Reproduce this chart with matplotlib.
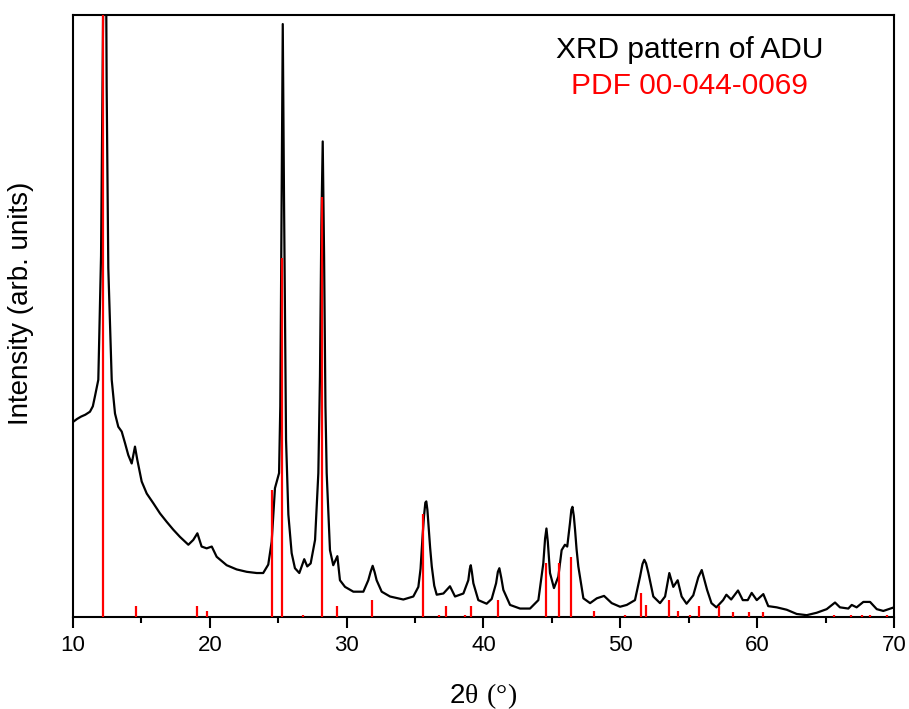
import numpy as np
import matplotlib
matplotlib.use("Agg")
import matplotlib.pyplot as plt

plt.rcParams['font.family'] = ['Liberation Sans', 'DejaVu Sans']
plt.rcParams['mathtext.fontset'] = 'custom'
plt.rcParams['mathtext.rm'] = 'Liberation Serif'

# Patrón XRD del ADU (intensidad en unidades arbitrarias)
two_theta = [
    10.0, 10.3, 10.6, 10.9, 11.24, 11.45, 11.6, 11.85, 12.05, 12.2, 12.35,
    12.46, 12.58, 12.83, 13.07, 13.31, 13.56, 13.8, 14.04, 14.29, 14.53, 14.7,
    15.02, 15.39, 15.87, 16.36, 16.85, 17.33, 17.82, 18.43, 18.79, 19.09,
    19.4, 19.77, 20.14, 20.5, 21.23, 21.96, 22.7, 23.43, 23.9, 24.27, 24.52,
    24.76, 24.93, 25.06, 25.15, 25.25, 25.33, 25.42, 25.57, 25.74, 25.98,
    26.22, 26.54, 26.9, 27.12, 27.37, 27.69, 27.93, 28.05, 28.15, 28.25,
    28.35, 28.45, 28.54, 28.78, 29.02, 29.32, 29.51, 29.88, 30.49, 31.22,
    31.58, 31.75, 31.9, 32.05, 32.19, 32.56, 33.17, 34.14, 34.87, 35.24,
    35.4, 35.55, 35.65, 35.75, 35.82, 35.9, 35.97, 36.1, 36.22, 36.4,
    36.58, 37.07, 37.55, 37.92, 38.53, 38.89, 39.0, 39.07, 39.15, 39.26,
    39.62, 40.23, 40.6, 40.92, 41.05, 41.16, 41.3, 41.45, 41.94, 42.67,
    43.4, 44.01, 44.37, 44.5, 44.6, 44.7, 44.86, 45.15, 45.47, 45.71,
    45.95, 46.12, 46.32, 46.42, 46.5, 46.6, 46.69, 46.8, 46.93, 47.3,
    47.79, 48.28, 48.81, 49.37, 49.98, 50.47, 51.07, 51.44, 51.62, 51.75,
    51.88, 52.05, 52.41, 52.9, 53.27, 53.58, 53.87, 54.19, 54.48, 54.84,
    55.33, 55.7, 55.95, 56.34, 56.66, 57.02, 57.51, 57.75, 58.1, 58.6,
    58.95, 59.31, 59.6, 59.97, 60.45, 60.81, 61.43, 62.16, 62.89, 63.62,
    64.35, 65.08, 65.69, 66.05, 66.66, 66.91, 67.27, 67.76, 68.25, 68.74,
    69.22, 70.0,
]
intensity = [
    32.4, 32.9, 33.3, 33.6, 34.1, 35.0, 36.6, 39.4, 60.0, 100.0, 140.0,
    88.0, 58.0, 39.4, 33.8, 31.6, 30.8, 28.9, 26.9, 25.5, 28.3, 26.1,
    22.5, 20.5, 18.9, 17.2, 15.8, 14.5, 13.3, 12.0, 12.8, 13.9,
    11.7, 11.4, 11.7, 10.0, 8.6, 7.9, 7.5, 7.3, 7.3, 8.7, 12.5,
    21.4, 22.8, 23.9, 35.0, 70.0, 98.5, 70.0, 29.4, 17.0, 10.6,
    8.1, 7.3, 9.6, 8.4, 8.9, 12.8, 23.9, 40.0, 65.0, 79.0,
    60.0, 35.0, 23.9, 11.1, 8.6, 10.1, 6.1, 5.0, 4.2, 4.2,
    6.1, 7.5, 8.5, 7.4, 6.1, 4.2, 3.4, 2.9, 3.4, 5.0,
    8.0, 13.5, 16.7, 19.0, 19.2, 17.8, 15.6, 11.5, 8.4, 5.2,
    3.7, 3.9, 5.1, 3.4, 3.9, 6.1, 8.0, 8.6, 7.5, 5.6,
    2.8, 2.2, 3.0, 5.6, 7.5, 8.1, 6.5, 4.5, 2.0, 1.4,
    1.4, 2.8, 8.9, 13.0, 14.7, 12.5, 7.3, 4.8, 6.7, 11.1,
    12.0, 11.7, 15.6, 17.8, 18.3, 16.8, 14.5, 11.3, 8.4, 3.1,
    2.3, 3.1, 3.5, 2.3, 1.7, 2.0, 2.8, 6.7, 8.8, 9.5,
    8.9, 7.3, 3.4, 2.3, 3.4, 7.3, 5.0, 6.1, 3.4, 2.2,
    3.6, 6.6, 7.8, 4.5, 2.3, 1.6, 2.8, 3.7, 2.9, 4.4,
    2.8, 2.8, 4.0, 2.8, 3.8, 1.8, 1.6, 1.2, 0.5, 0.3,
    0.7, 1.3, 2.4, 1.6, 1.4, 2.0, 1.6, 2.5, 2.5, 1.3,
    1.0, 1.6,
]

# Líneas de referencia PDF 00-044-0069
pdf_pos = [
    12.21, 14.6, 19.06, 19.79, 24.53, 25.31, 26.8, 28.2, 29.29, 31.83,
    35.56, 36.73, 37.24, 38.65, 39.06, 41.06, 44.57, 45.54, 46.40, 48.05,
    50.37, 51.54, 51.9, 53.56, 54.22, 55.06, 55.74, 57.21, 58.26, 59.43,
    60.42, 65.6, 66.84, 67.66, 68.27, 69.47,
]
pdf_int = [
    100.0, 1.9, 1.9, 0.95, 21.1, 59.6, 0.3, 69.8, 1.9, 2.9,
    17.1, 0.3, 1.9, 0.3, 1.9, 2.9, 9.0, 9.0, 10.0, 0.95,
    0.3, 4.0, 2.0, 2.9, 0.95, 0.3, 1.9, 1.9, 0.9, 0.9,
    0.9, 0.3, 0.3, 0.3, 0.3, 0.3,
]

fig = plt.figure(figsize=(9.09, 7.09), dpi=100)
ax = fig.add_axes([0.0803, 0.1298, 0.9032, 0.849])

ax.vlines(pdf_pos, 0, pdf_int, colors='red', linewidth=1.6, zorder=3)
ax.plot(two_theta, intensity, color='black', linewidth=1.6, zorder=2)

ax.set_xlim(10, 70)
ax.set_ylim(0, 100)
ax.set_xticks(np.arange(10, 71, 10))
ax.set_xticks(np.arange(15, 70, 10), minor=True)
ax.set_yticks([])
ax.tick_params(axis='x', which='major', direction='out', length=8, width=1.5,
               labelsize=16, pad=5)
ax.tick_params(axis='x', which='minor', direction='out', length=4, width=1.5)
for s in ax.spines.values():
    s.set_linewidth(1.5)

ax.set_xlabel(r'2$\mathrm{\theta\ (°)}$', fontsize=20, labelpad=18)
ax.set_ylabel('Intensity (arb. units)', fontsize=20)
ax.yaxis.set_label_coords(-0.048, 0.521)

ax.text(0.751, 0.942, 'XRD pattern of ADU', transform=ax.transAxes,
        ha='center', va='center', fontsize=21.5, color='black')
ax.text(0.751, 0.882, 'PDF 00-044-0069', transform=ax.transAxes,
        ha='center', va='center', fontsize=21.5, color='red')

fig.savefig('out.png', dpi=100)
